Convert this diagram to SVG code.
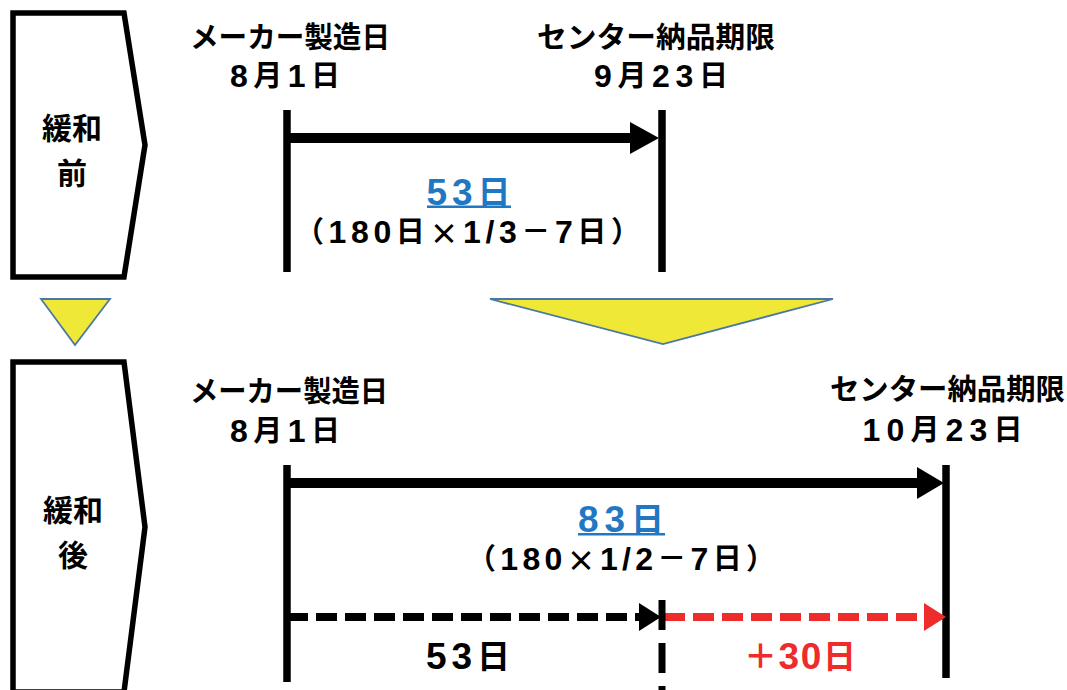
<svg xmlns="http://www.w3.org/2000/svg" width="1067" height="690" viewBox="0 0 1067 690">
<style>
.t{font-family:"Liberation Sans","Noto Sans CJK JP",sans-serif;font-weight:bold;fill:#000;text-anchor:middle;dominant-baseline:central}
.j{font-family:"Noto Sans CJK JP","Liberation Sans",sans-serif}
.d{font-size:32px}
.D{font-size:37px}
.blue{fill:#1f78c1}
.red{fill:#ee2c2c}
.frame{fill:#fff;stroke:#000;stroke-width:5.5;stroke-linejoin:miter}
.tri{fill:#f0e836;stroke:#4a78a6;stroke-width:1.8}
.bar{stroke:#000;stroke-width:7.5;fill:none}
.shaft{stroke:#000;stroke-width:10;fill:none}
.dash{stroke-width:8;stroke-dasharray:21 8;fill:none}
</style>
<defs></defs>
<g id="before-label">
<polygon class="frame" points="13,13 124,13 145,145 124,277 13,277"/>
<text class="t j" x="72" y="126" font-size="30">緩和</text>
<text class="t j" x="72" y="171" font-size="30">前</text>
</g>
<g id="after-label">
<polygon class="frame" points="13,362 124,362 145,527 124,692 13,692"/>
<text class="t j" x="73" y="508" font-size="30">緩和</text>
<text class="t j" x="73" y="553" font-size="30">後</text>
</g>
<g id="down-arrows">
<polygon class="tri" points="41,299 110,299 75,345"/>
<polygon class="tri" points="490,299 833,299 663,344"/>
</g>
<g id="before-start">
<text class="t j" x="290" y="35" font-size="29" textLength="200" lengthAdjust="spacingAndGlyphs">メーカー製造日</text>
<text class="t" x="285" y="76" font-size="29" textLength="110" lengthAdjust="spacing"><tspan class="d">8</tspan>月<tspan class="d">1</tspan>日</text>
</g>
<g id="before-end">
<text class="t j" x="656" y="35" font-size="29" textLength="238" lengthAdjust="spacingAndGlyphs">センター納品期限</text>
<text class="t" x="661" y="76" font-size="29" textLength="134" lengthAdjust="spacing"><tspan class="d">9</tspan>月<tspan class="d">23</tspan>日</text>
</g>
<g id="before-period">
<text class="t blue" x="468.5" y="192" font-size="33" textLength="84" lengthAdjust="spacing"><tspan class="D">53</tspan>日</text>
<rect x="427" y="205.5" width="84" height="2.5" fill="#1f78c1"/>
<text class="t" x="467.5" y="232" font-size="29" textLength="345" lengthAdjust="spacing">（<tspan class="d">180</tspan>日<tspan class="j">×</tspan><tspan class="d">1/3</tspan>－<tspan class="d">7</tspan>日）</text>
</g>
<g id="after-start">
<text class="t j" x="289" y="389" font-size="29" textLength="198" lengthAdjust="spacingAndGlyphs">メーカー製造日</text>
<text class="t" x="285" y="431" font-size="29" textLength="110" lengthAdjust="spacing"><tspan class="d">8</tspan>月<tspan class="d">1</tspan>日</text>
</g>
<g id="after-end">
<text class="t j" x="947.5" y="387" font-size="29" textLength="235" lengthAdjust="spacingAndGlyphs">センター納品期限</text>
<text class="t" x="942.5" y="430" font-size="29" textLength="160" lengthAdjust="spacing"><tspan class="d">10</tspan>月<tspan class="d">23</tspan>日</text>
</g>
<g id="after-period">
<text class="t blue" x="621" y="519" font-size="33" textLength="86" lengthAdjust="spacing"><tspan class="D">83</tspan>日</text>
<rect x="578" y="533" width="87" height="2.5" fill="#1f78c1"/>
<text class="t" x="621" y="559" font-size="29" textLength="308" lengthAdjust="spacing">（<tspan class="d">180</tspan><tspan class="j">×</tspan><tspan class="d">1/2</tspan>－<tspan class="d">7</tspan>日）</text>
<text class="t" x="468" y="656" font-size="33" textLength="84" lengthAdjust="spacing"><tspan class="D">53</tspan>日</text>
<text class="t red" x="800" y="656" font-size="33" textLength="112" lengthAdjust="spacing">＋<tspan class="D">30</tspan>日</text>
</g>
<g id="connectors">
<line class="bar" x1="287" y1="110" x2="287" y2="272"/>
<line class="bar" x1="662" y1="110" x2="662" y2="272"/>
<line class="shaft" x1="287" y1="138" x2="632" y2="138"/>
<polygon points="630,122 659,138 630,154" fill="#000"/>
<line class="bar" x1="287" y1="465" x2="287" y2="682"/>
<line class="bar" x1="946" y1="465" x2="946" y2="678"/>
<line class="shaft" x1="287" y1="483" x2="920" y2="483"/>
<polygon points="917,467 944,483 917,499" fill="#000"/>
<line class="dash" stroke="#000" x1="287" y1="617" x2="641" y2="617"/>
<polygon points="639,603 661,617 639,631" fill="#000"/>
<line class="dash" stroke="#ee2c2c" x1="664" y1="617" x2="926" y2="617"/>
<polygon points="924,603 946,617 924,631" fill="#ee2c2c"/>
<line stroke="#000" stroke-width="7" stroke-dasharray="30 13" x1="662" y1="600" x2="662" y2="690"/>
</g>
</svg>
